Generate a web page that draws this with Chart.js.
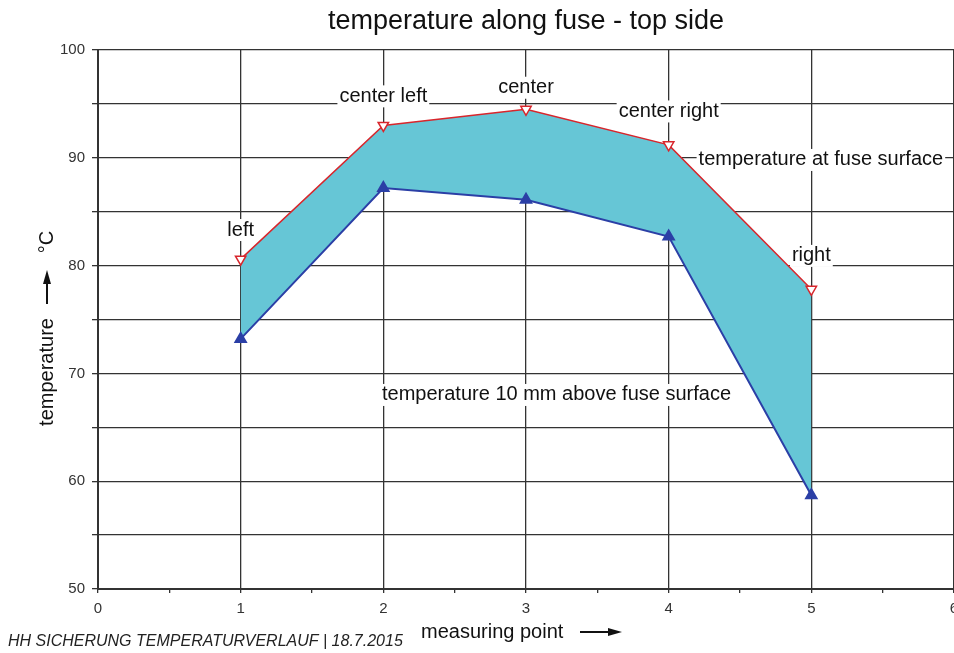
<!DOCTYPE html>
<html>
<head>
<meta charset="utf-8">
<script src="https://cdn.jsdelivr.net/npm/chart.js@4"></script>
<style>
  html, body { margin: 0; padding: 0; background: #fff; overflow: hidden; }
  #wrap { width: 954px; height: 653px; position: relative; }
  canvas { display: block; }
</style>
</head>
<body>
<div id="wrap"><canvas id="fuseChart"></canvas></div>
<script>
// measuring points along the fuse
const points = [1, 2, 3, 4, 5];
// temperature at fuse surface (red, open triangles)
const surfaceTemp = [80.6, 93.0, 94.5, 91.2, 77.8];
// temperature 10 mm above fuse surface (blue, filled triangles)
const aboveTemp = [73.2, 87.2, 86.1, 82.7, 58.7];

// text labels placed in data coordinates
const labelText = ['left', 'center left', 'center', 'center right', 'right',
  'temperature at fuse surface', 'temperature 10 mm above fuse surface'];
const labelX = [1, 2, 3, 4, 5, 5.067, 3.214];
const labelY = [83.3, 95.7, 96.5, 94.3, 80.9, 89.8, 68.0];

const FONT = 'Arial, "Liberation Sans", sans-serif';

const decorations = {
  id: 'decorations',
  beforeDatasetsDraw(chart) {
    const { ctx, scales } = chart;
    ctx.save();
    ctx.font = '20px ' + FONT;
    ctx.textAlign = 'center';
    ctx.textBaseline = 'middle';
    labelText.forEach((t, i) => {
      const x = scales.x.getPixelForValue(labelX[i]);
      const y = scales.y.getPixelForValue(labelY[i]);
      const w = ctx.measureText(t).width;
      ctx.fillStyle = '#fff';
      ctx.fillRect(x - w / 2 - 2, y - 11, w + 4, 22);
      ctx.fillStyle = '#111';
      ctx.fillText(t, x, y);
    });
    ctx.restore();
  },
  afterDraw(chart) {
    const { ctx, chartArea } = chart;
    ctx.save();
    ctx.fillStyle = '#111';
    ctx.strokeStyle = '#111';
    // title
    ctx.font = '27px ' + FONT;
    ctx.textAlign = 'center';
    ctx.textBaseline = 'middle';
    ctx.fillText('temperature along fuse - top side', (chartArea.left + chartArea.right) / 2, 22);

    // x axis title with arrow
    ctx.font = '20px ' + FONT;
    ctx.textAlign = 'left';
    ctx.fillText('measuring point', 421, 632);
    ctx.lineWidth = 2;
    ctx.beginPath();
    ctx.moveTo(580, 632);
    ctx.lineTo(612, 632);
    ctx.stroke();
    ctx.beginPath();
    ctx.moveTo(622, 632);
    ctx.lineTo(608, 628);
    ctx.lineTo(608, 636);
    ctx.closePath();
    ctx.fill();

    // y axis title with arrow
    ctx.save();
    ctx.translate(47, 0);
    ctx.rotate(-Math.PI / 2);
    ctx.textAlign = 'center';
    ctx.fillText('temperature', -372, 0);
    ctx.beginPath();
    ctx.moveTo(-304, 0);
    ctx.lineTo(-280, 0);
    ctx.stroke();
    ctx.beginPath();
    ctx.moveTo(-270, 0);
    ctx.lineTo(-284, -4);
    ctx.lineTo(-284, 4);
    ctx.closePath();
    ctx.fill();
    ctx.fillText('\u00B0C', -242, 0);
    ctx.restore();

    // footer
    ctx.font = 'italic 16px ' + FONT;
    ctx.fillStyle = '#222';
    ctx.textAlign = 'left';
    ctx.fillText('HH SICHERUNG TEMPERATURVERLAUF | 18.7.2015', 8, 642);
    ctx.restore();
  }
};

const ctx = document.getElementById('fuseChart').getContext('2d');

new Chart(ctx, {
  type: 'line',
  data: {
    datasets: [{
      label: 'temperature at fuse surface',
      data: points.map((p, i) => ({ x: p, y: surfaceTemp[i] })),
      order: 0,
      borderColor: '#d8262c',
      borderWidth: 1.5,
      backgroundColor: '#66c6d6',
      fill: '+1',
      pointStyle: 'triangle',
      pointRotation: 180,
      pointRadius: 6,
      pointBackgroundColor: '#fff',
      pointBorderColor: '#d8262c',
      pointBorderWidth: 1.5,
      tension: 0
    }, {
      label: 'temperature 10 mm above fuse surface',
      data: points.map((p, i) => ({ x: p, y: aboveTemp[i] })),
      order: -1,
      borderColor: '#2b3fa6',
      borderWidth: 2,
      fill: false,
      pointStyle: 'triangle',
      pointRadius: 6,
      pointBackgroundColor: '#2b3fa6',
      pointBorderColor: '#2b3fa6',
      tension: 0
    }]
  },
  options: {
    responsive: true,
    maintainAspectRatio: false,
    animation: false,
    layout: {
      autoPadding: false,
      padding: { top: 50, left: 0, right: 0, bottom: 0 }
    },
    plugins: {
      legend: { display: false },
      tooltip: { enabled: false }
    },
    scales: {
      x: {
        type: 'linear',
        min: 0,
        max: 6,
        afterFit: s => { s.height = 64; s.paddingLeft = 0; s.paddingRight = 0; },
        ticks: {
          stepSize: 0.5,
          color: '#333',
          padding: 7,
          font: { size: 15, family: FONT },
          maxRotation: 0,
          autoSkip: false,
          callback: v => Number.isInteger(v) ? v : ''
        },
        grid: {
          color: c => (c.tick && Number.isInteger(c.tick.value)) ? '#333' : 'rgba(0,0,0,0)',
          tickColor: '#333',
          lineWidth: 1.3,
          tickLength: 4
        },
        border: { color: '#333', width: 2 }
      },
      y: {
        min: 50,
        max: 100,
        afterFit: s => { s.width = 98; s.paddingTop = 0; s.paddingBottom = 0; },
        ticks: {
          stepSize: 5,
          color: '#333',
          padding: 7,
          font: { size: 15, family: FONT },
          autoSkip: false,
          callback: v => v % 10 === 0 ? v : ''
        },
        grid: {
          color: '#333',
          lineWidth: 1.3,
          tickLength: 6
        },
        border: { color: '#333', width: 2 }
      }
    }
  },
  plugins: [decorations]
});
</script>
</body>
</html>
